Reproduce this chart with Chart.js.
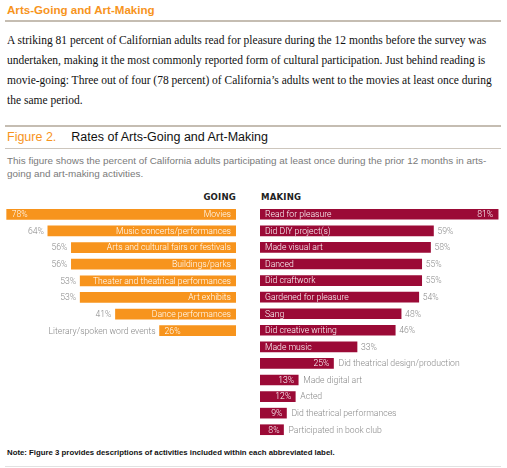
<!DOCTYPE html>
<html>
<head>
<meta charset="utf-8">
<script src="https://cdn.jsdelivr.net/npm/chart.js@4.4.1/dist/chart.umd.min.js"></script>
<style>
  html, body { margin: 0; padding: 0; background: #fff; }
  body { width: 507px; height: 468px; position: relative; overflow: hidden; font-family: "Liberation Sans", Arial, sans-serif; }
  .abs { position: absolute; white-space: nowrap; }
  .rule { position: absolute; left: 5px; width: 496px; }
  #head { left: 7px; top: 3px; font-size: 11.6px; font-weight: bold; color: #F7941D; }
  #para { left: 7px; top: 30px; font-family: "Liberation Serif", "Times New Roman", serif; font-size: 12.3px; line-height: 20px; color: #111;
          transform: scaleX(0.935); transform-origin: 0 0; }
  #fig { left: 7px; top: 130px; font-size: 12.5px; color: #111; }
  #fig span { color: #F7941D; margin-right: 15px; }
  #cap { left: 7px; top: 154px; font-size: 9.9px; line-height: 13px; color: #7a7a7a; }
  .side { font-family: "DejaVu Sans Condensed", "Liberation Sans Narrow", Roboto, sans-serif; font-weight: bold; font-size: 9.5px; letter-spacing: 0.2px; color: #222; top: 191px; }
  #note { left: 7px; top: 448px; font-size: 7.8px; font-weight: bold; color: #111; }
  canvas { position: absolute; }
</style>
</head>
<body>
<div class="abs" id="head">Arts-Going and Art-Making</div>
<div class="rule" style="top:20px;height:2px;background:#c5bdb2"></div>
<div class="abs" id="para">A striking 81 percent of Californian adults read for pleasure during the 12 months before the survey was<br>undertaken, making it the most commonly reported form of cultural participation. Just behind reading is<br>movie-going: Three out of four (78 percent) of California’s adults went to the movies at least once during<br>the same period.</div>
<div class="rule" style="top:125px;height:2px;background:#c5bdb2"></div>
<div class="abs" id="fig"><span>Figure 2.</span>Rates of Arts-Going and Art-Making</div>
<div class="rule" style="top:148px;height:1px;background:#cdc6bd"></div>
<div class="abs" id="cap">This figure shows the percent of California adults participating at least once during the prior 12 months in arts-<br>going and art-making activities.</div>
<div class="abs side" style="right:271px">GOING</div>
<div class="abs side" style="left:261px">MAKING</div>
<canvas id="goingChart" width="230" height="133" style="left:6px;top:206px"></canvas>
<canvas id="makingChart" width="240" height="232" style="left:260px;top:206px"></canvas>
<div class="abs" id="note">Note: Figure 3 provides descriptions of activities included within each abbreviated label.</div>
<div class="rule" style="top:466px;height:1px;background:#e2e2e2"></div>

<script>
// arts-going
let goingLabels = ["Movies", "Music concerts/performances", "Arts and cultural fairs or festivals", "Buildings/parks",
    "Theater and theatrical performances", "Art exhibits", "Dance performances", "Literary/spoken word events"]
let goingValues = [78, 64, 56, 56, 53, 53, 41, 26]

// art-making
let makingLabels = ["Read for pleasure", "Did DIY project(s)", "Made visual art", "Danced", "Did craftwork",
    "Gardened for pleasure", "Sang", "Did creative writing", "Made music", "Did theatrical design/production",
    "Made digital art", "Acted", "Did theatrical performances", "Participated in book club"]
let makingValues = [81, 59, 58, 55, 55, 54, 48, 46, 33, 25, 13, 12, 9, 8]

// the original uses a narrow DIN-like face, so squeeze Roboto a bit
let barFont = "300 9.6px Roboto, 'Liberation Sans', sans-serif"
let squeeze = 0.9

// writes the name and percent in or beside each bar
const barText = {
    id: "barText",
    afterDatasetsDraw(chart, args, opts) {
        let ctx = chart.ctx
        let meta = chart.getDatasetMeta(0)
        let values = chart.data.datasets[0].data
        let names = chart.data.labels
        let top = Math.max(...values)
        let left = opts.side === "left"
        ctx.save()
        ctx.font = barFont
        ctx.textBaseline = "middle"
        meta.data.forEach((bar, i) => {
            let base = bar.base, end = bar.x, y = bar.y + 0.5
            let len = Math.abs(end - base)
            let name = names[i], pct = values[i] + "%"
            // short bars only carry their percent
            let fits = len >= 45 && ctx.measureText(name).width * squeeze + 10 <= len
            let put = (txt, x, align, col) => {
                ctx.save()
                ctx.translate(x, y)
                ctx.scale(squeeze, 1)
                ctx.fillStyle = col
                ctx.textAlign = align
                ctx.fillText(txt, 0, 0)
                ctx.restore()
            }
            if (left) {
                if (fits) {
                    put(name, base - 5, "right", "#fff")
                    if (values[i] === top) put(pct, end + 5, "left", "#fff")
                    else put(pct, end - 4, "right", "#888")
                } else {
                    put(pct, end + 5, "left", "#fff")
                    put(name, end - 4, "right", "#888")
                }
            } else {
                if (fits) {
                    put(name, base + 5, "left", "#fff")
                    if (values[i] === top) put(pct, end - 5, "right", "#fff")
                    else put(pct, end + 4, "left", "#888")
                } else {
                    put(pct, end - 4, "right", "#fff")
                    put(name, end + 5, "left", "#888")
                }
            }
        })
        ctx.restore()
    }
}

function sideChart(id, labels, values, color, side, max) {
    return new Chart(document.getElementById(id).getContext("2d"), {
        type: "bar",
        data: {
            labels: labels,
            datasets: [{
                data: values,
                backgroundColor: color,
                barThickness: 10
            }]
        },
        options: {
            indexAxis: "y",
            responsive: false,
            animation: false,
            layout: { padding: 0 },
            plugins: {
                legend: { display: false },
                tooltip: { enabled: false },
                barText: { side: side }
            },
            scales: {
                x: { display: false, min: 0, max: max, reverse: side === "left" },
                y: { display: false }
            }
        },
        plugins: [barText]
    })
}

// 2.94 px per percent on both sides
let goingChart = sideChart("goingChart", goingLabels, goingValues, "#F7941D", "left", 230 / 2.94)
let makingChart = sideChart("makingChart", makingLabels, makingValues, "#9B0A36", "right", 240 / 2.94)
</script>
</body>
</html>
